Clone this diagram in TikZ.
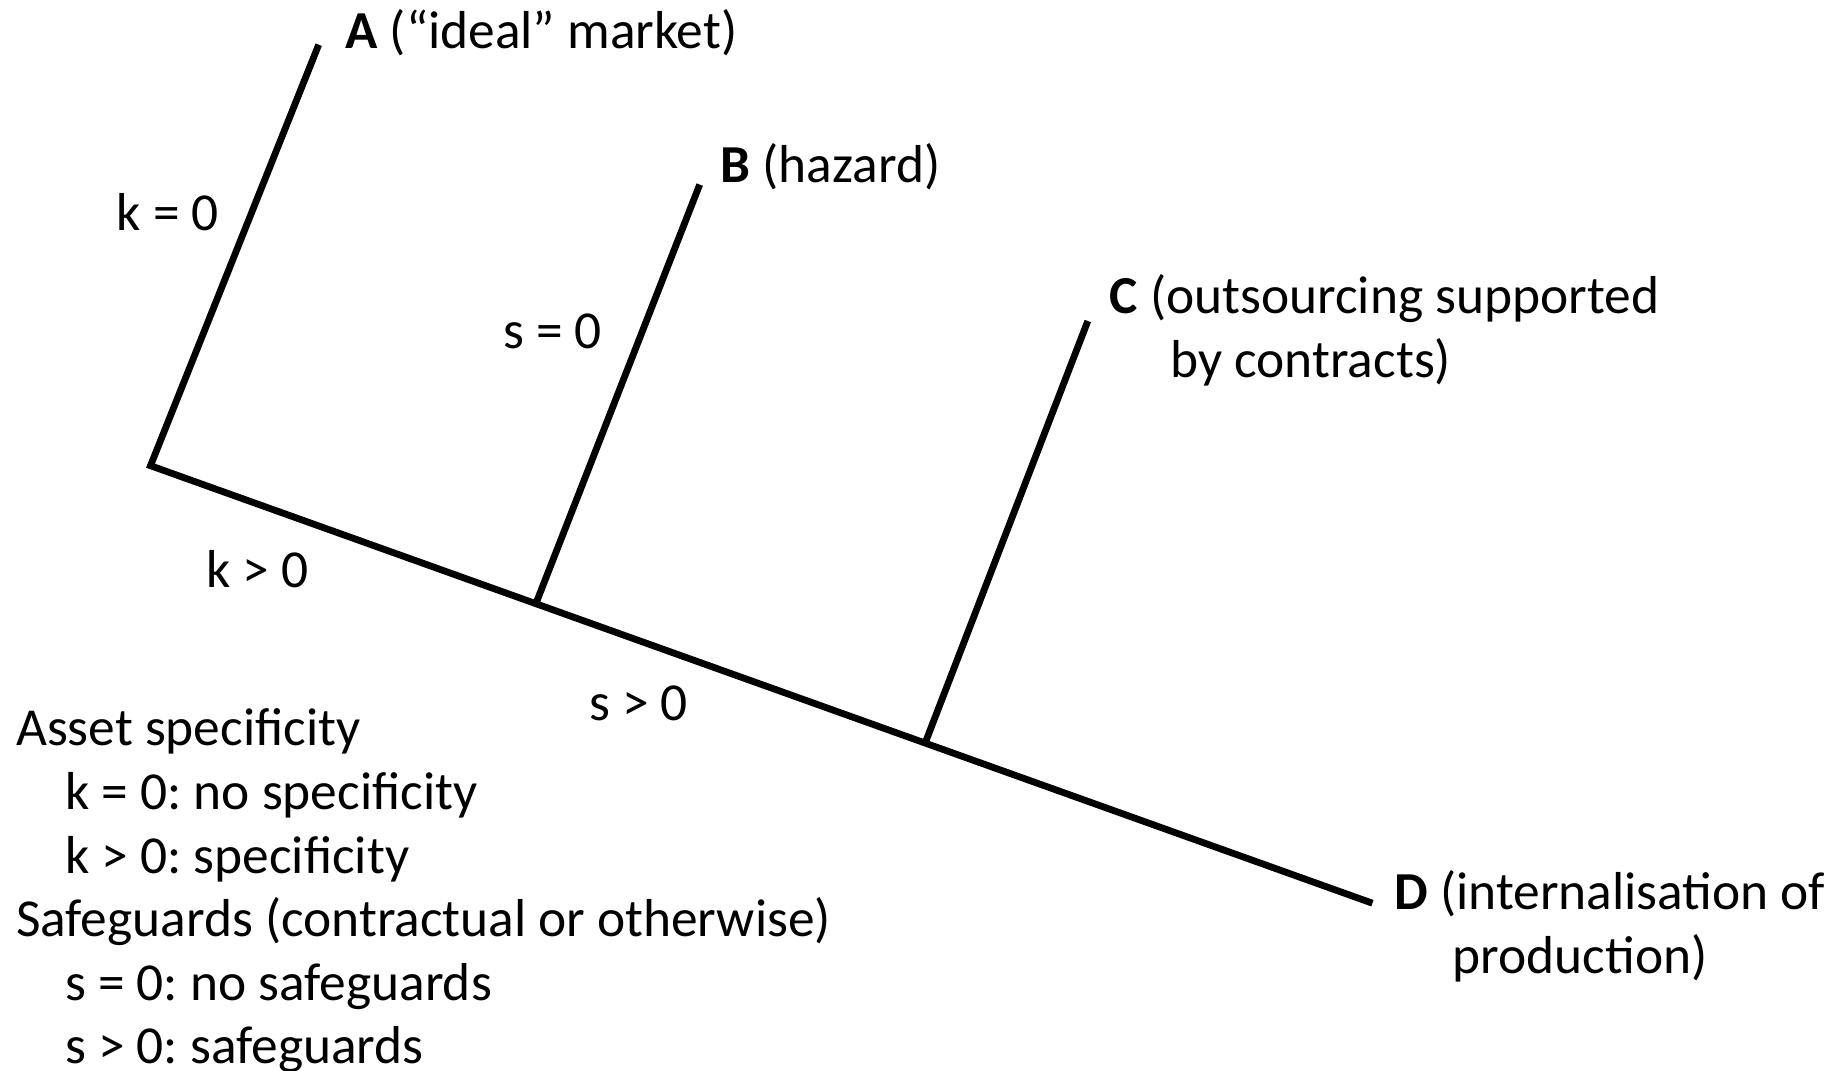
\documentclass[tikz,border=0pt]{standalone}
\usepackage{fontspec}
\setmainfont{Carlito}
\usetikzlibrary{positioning}
\frenchspacing

\begin{document}
\begin{tikzpicture}[x=0.25pt,y=-0.25pt,font=\fontsize{13.35}{15.9}\selectfont,
  branch/.style={line width=1.7pt},
  lbl/.style={anchor=west,inner sep=0pt,align=left},
  tag/.style={inner sep=0pt}]
\useasboundingbox (0,0) rectangle (1844,1071);
% end points of the tree
\coordinate (root) at (150.5,465.7);
\coordinate (a) at (318.7,44.7);
\coordinate (bfoot) at (535.1,605.6);
\coordinate (b) at (699.7,184.6);
\coordinate (cfoot) at (925.5,742.1);
\coordinate (c) at (1087.8,321);
\coordinate (d) at (1372.4,903.2);
\draw[branch] (a)--(root)--(d);
\draw[branch] (bfoot)--(b);
\draw[branch] (cfoot)--(c);
% outcomes
\node[lbl] (la) at (344.6,32.5) {\textbf{A} (“ideal” market)};
\node[lbl] (lb) at (719.7,167) {\textbf{B} (hazard)};
\node[lbl] (lc) at (1109,330) {\textbf{C} (outsourcing supported\\\hspace{15.2pt}by contracts)};
\node[lbl] (ld) at (1393.6,926) {\textbf{D} (internalisation of\\\hspace{14.6pt}production)};
% branch tags
\node[tag] (k0) at (168,212) {k = 0};
\node[tag] (k1) at (257.5,569) {k > 0};
\node[tag] (s0) at (552.7,331.6) {s = 0};
\node[tag] (s1) at (638.6,703.2) {s > 0};
% legend
\node[lbl] (key) at (15.3,891) {Asset specificity\\
  \hspace{12.3pt}k = 0: no specificity\\
  \hspace{12.3pt}k > 0: specificity\\
  Safeguards (contractual or otherwise)\\
  \hspace{12.3pt}s = 0: no safeguards\\
  \hspace{12.3pt}s > 0: safeguards};
\end{tikzpicture}
\end{document}
